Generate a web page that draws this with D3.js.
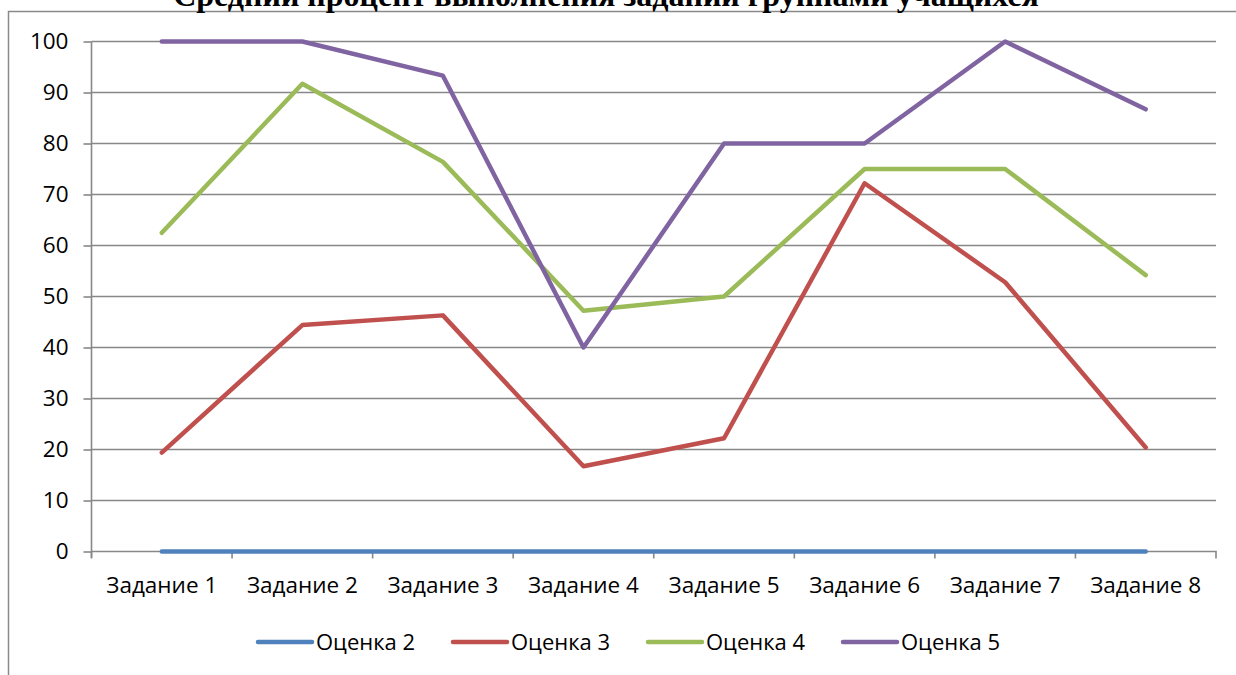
<!DOCTYPE html>
<html>
<head>
<meta charset="utf-8">
<script src="https://cdn.jsdelivr.net/npm/d3@7"></script>
<style>
  html, body { margin: 0; padding: 0; background: #fff; }
  svg { display: block; }
</style>
</head>
<body>
<svg id="chart" width="1236" height="675"></svg>
<script>
// Task names along the x axis
const categories = ["Задание 1", "Задание 2", "Задание 3", "Задание 4",
                    "Задание 5", "Задание 6", "Задание 7", "Задание 8"];

// Average completion percentage per grade group
const grade2 = [0, 0, 0, 0, 0, 0, 0, 0];
const grade3 = [19.4, 44.4, 46.3, 16.7, 22.2, 72.2, 52.8, 20.4];
const grade4 = [62.5, 91.7, 76.4, 47.2, 50, 75, 75, 54.2];
const grade5 = [100, 100, 93.3, 40, 80, 80, 100, 86.7];

const seriesNames = ["Оценка 2", "Оценка 3", "Оценка 4", "Оценка 5"];
const seriesColors = ["#4F81BD", "#C0504D", "#9BBB59", "#8064A2"];
const yTicks = [0, 10, 20, 30, 40, 50, 60, 70, 80, 90, 100];

const chartTitle = "Средний процент выполнения заданий группами учащихся";

const series = [grade2, grade3, grade4, grade5].map((values, i) => ({
  name: seriesNames[i], color: seriesColors[i], values
}));

const svg = d3.select("#chart");
const plotLeft = 91.5, plotRight = 1216, plotTop = 41.5, plotBottom = 551.5;
const axisColor = "#888888";
const labelFont = "'Open Sans', sans-serif";

// Outer chart frame (only top and left edges fall inside the view)
svg.append("path")
  .attr("d", "M8.5,675 V11.5 H1236")
  .attr("fill", "none").attr("stroke", "#8a8a8a").attr("stroke-width", 1.5);

// Title
svg.append("text")
  .attr("x", 606).attr("y", 6)
  .attr("text-anchor", "middle")
  .attr("font-family", "'Liberation Serif', 'Times New Roman', serif")
  .attr("font-weight", "bold")
  .attr("font-size", 32)
  .attr("fill", "#000")
  .text(chartTitle);

const x = d3.scaleBand().domain(categories).range([plotLeft, plotRight]);
const y = d3.scaleLinear().domain([0, 100]).range([plotBottom, plotTop]);

// Horizontal gridlines
svg.append("g").selectAll("line").data(yTicks.filter(t => t > 0)).join("line")
  .attr("x1", plotLeft).attr("x2", plotRight)
  .attr("y1", d => y(d)).attr("y2", d => y(d))
  .attr("stroke", axisColor).attr("stroke-width", 1.6);

// Y axis
const yAxis = svg.append("g")
  .attr("transform", `translate(${plotLeft},0)`)
  .call(d3.axisLeft(y).tickValues(yTicks).tickSize(8).tickPadding(15));
yAxis.select(".domain").attr("stroke", axisColor).attr("stroke-width", 1.6)
  .attr("d", `M0,${plotTop}V${plotBottom + 6}`);
yAxis.selectAll(".tick line").attr("stroke", axisColor).attr("stroke-width", 1.6);
yAxis.selectAll(".tick text")
  .attr("font-family", labelFont).attr("font-size", 22.5).attr("fill", "#000");

// X axis with ticks between categories
const xAxis = svg.append("g")
  .attr("transform", `translate(0,${plotBottom})`)
  .call(d3.axisBottom(x).tickSize(0).tickPadding(26));
xAxis.select(".domain").attr("stroke", axisColor).attr("stroke-width", 1.6)
  .attr("d", `M${plotLeft},0H${plotRight}V7`);
xAxis.selectAll(".tick text")
  .attr("font-family", labelFont).attr("font-size", 22.5).attr("fill", "#000");
svg.append("g").selectAll("line")
  .data(categories.map(c => x(c)))
  .join("line")
  .attr("x1", d => d).attr("x2", d => d)
  .attr("y1", plotBottom).attr("y2", plotBottom + 7)
  .attr("stroke", axisColor).attr("stroke-width", 1.6);

// Series lines
const line = d3.line()
  .x((d, i) => x(categories[i]) + x.bandwidth() / 2)
  .y(d => y(d));

svg.append("g").selectAll("path").data(series).join("path")
  .attr("d", d => line(d.values))
  .attr("fill", "none")
  .attr("stroke", d => d.color)
  .attr("stroke-width", 4.5)
  .attr("stroke-linejoin", "round")
  .attr("stroke-linecap", "round");

// Legend
const legend = svg.append("g").attr("transform", "translate(258,642)");
const item = legend.selectAll("g").data(series).join("g")
  .attr("transform", (d, i) => `translate(${i * 195},0)`);
item.append("line")
  .attr("x1", 0).attr("x2", 54).attr("y1", 0).attr("y2", 0)
  .attr("stroke", d => d.color).attr("stroke-width", 4.5)
  .attr("stroke-linecap", "round");
item.append("text")
  .attr("x", 58).attr("y", 8)
  .attr("font-family", labelFont).attr("font-size", 22).attr("fill", "#000")
  .text(d => d.name);
</script>
</body>
</html>
